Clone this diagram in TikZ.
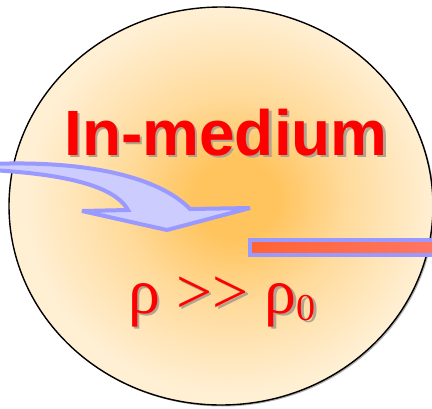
\documentclass[tikz,border=0pt]{standalone}
\usepackage{fontspec}
\setmainfont{Liberation Serif}
\newfontfamily\headfont{Liberation Sans}
\usepackage{tikz}
\usepackage{xcolor}
\usetikzlibrary{positioning,calc}
\definecolor{glowcore}{HTML}{FFC45E}
\definecolor{glowmid}{HTML}{FFDA9A}
\definecolor{glowedge}{HTML}{FFEFD3}
\definecolor{arrowfill}{HTML}{CCCCFF}
\definecolor{arrowline}{HTML}{9999FF}
\definecolor{barleft}{HTML}{FF6333}
\definecolor{barright}{HTML}{FF7766}
\definecolor{labelred}{HTML}{FF0000}
\definecolor{shadowgray}{HTML}{B0A490}
\pgfdeclareradialshading{mediumglow}{\pgfpoint{2bp}{1bp}}{%
  color(0bp)=(glowcore); color(5bp)=(glowcore); color(13bp)=(glowmid); color(24bp)=(glowedge); color(50bp)=(glowedge)}

\begin{document}
\begin{tikzpicture}[x=1pt,y=-1pt,
  every node/.style={inner sep=0pt},
  headtext/.style={font=\headfont\bfseries\fontsize{64}{64}\selectfont},
  denstext/.style={font=\fontsize{64}{64}\selectfont},
  textshadow/.style={text=shadowgray}]
  \useasboundingbox (0,0) rectangle (432,408);
  \clip (0,0) rectangle (432,408);
  % medium
  \fill[black!30] (222.5,207.5) ellipse [x radius=212,y radius=199];
  \shade[shading=mediumglow,draw=black,line width=1.4pt] (221,206) ellipse [x radius=212,y radius=199];
  % incoming arrow
  \draw[arrowline,fill=arrowfill,line width=4pt,line join=miter,miter limit=3]
    (-10,164) .. controls (90,160) and (160,178) .. (190,209) -- (250,208)
    -- (167,230) -- (82,211) -- (128,210)
    .. controls (118,192) and (85,175) .. (-10,170) -- cycle;
  % outgoing bar
  \shade[left color=barleft,right color=barright,draw=arrowline,line width=4pt]
    (250,240) rectangle (442,255);
  % labels
  \node[headtext,textshadow,anchor=base] (titleshade) at (228.5,157.5) {In-medium};
  \node[headtext,text=labelred,anchor=base] (title) at (226,155) {In-medium};
  \node[denstext,textshadow,anchor=base] (densshade) at (224.5,315.5)
    {ρ {>}{>} ρ{\fontsize{38}{38}\selectfont\raisebox{-7pt}{0}}};
  \node[denstext,text=labelred,anchor=base] (density) at (222,313)
    {ρ {>}{>} ρ{\fontsize{38}{38}\selectfont\raisebox{-7pt}{0}}};
\end{tikzpicture}
\end{document}
